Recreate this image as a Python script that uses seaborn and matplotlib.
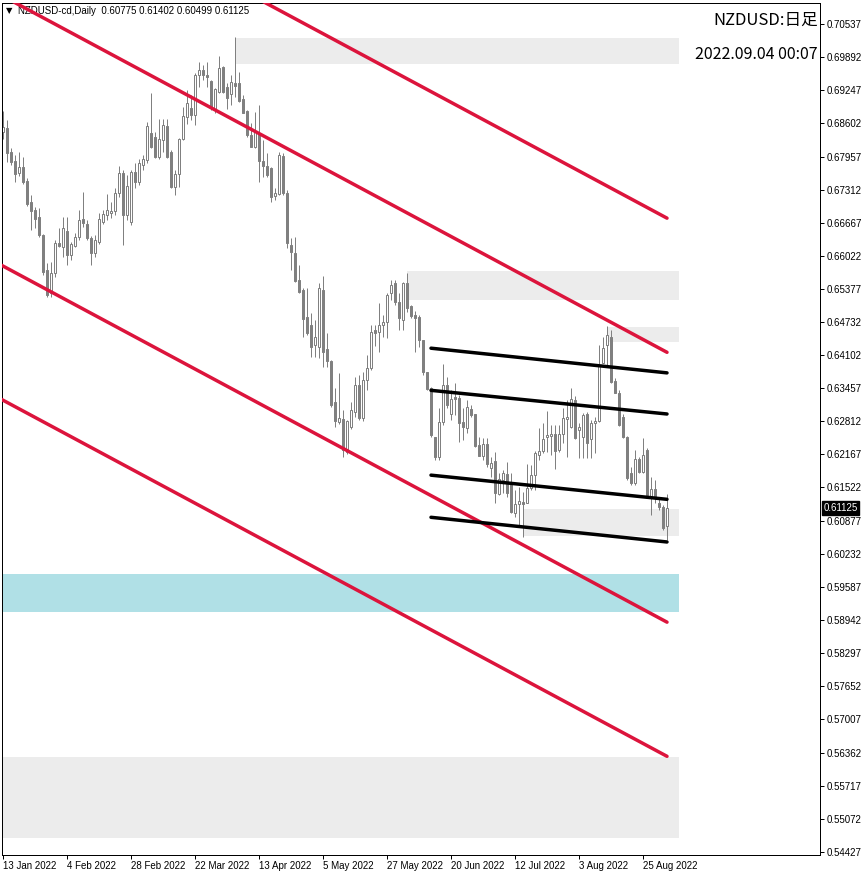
import numpy as np
import pandas as pd
import matplotlib
matplotlib.use("Agg")
import matplotlib.pyplot as plt
import matplotlib.transforms as mtransforms
from matplotlib.patches import Rectangle
import seaborn as sns

# Velas diarias NZDUSD (13 ene 2022 - 2 sep 2022)
opens = [0.6844, 0.6851, 0.6805, 0.6787, 0.6764, 0.6775, 0.6748, 0.6707, 0.6692, 0.6678,
         0.6643, 0.6575, 0.6530, 0.6569, 0.6628, 0.6620, 0.6651, 0.6604, 0.6622, 0.6639,
         0.6674, 0.6665, 0.6637, 0.6608, 0.6630, 0.6668, 0.6682, 0.6686, 0.6690, 0.6725,
         0.6764, 0.6682, 0.6668, 0.6766, 0.6746, 0.6779, 0.6789, 0.6842, 0.6834, 0.6795,
         0.6828, 0.6855, 0.6805, 0.6737, 0.6762, 0.6830, 0.6873, 0.6890, 0.6877, 0.6954,
         0.6964, 0.6954, 0.6943, 0.6886, 0.6921, 0.6970, 0.6931, 0.6918, 0.6939, 0.6939,
         0.6908, 0.6884, 0.6838, 0.6814, 0.6840, 0.6787, 0.6777, 0.6774, 0.6719, 0.6723,
         0.6797, 0.6725, 0.6624, 0.6608, 0.6556, 0.6536, 0.6484, 0.6468, 0.6429, 0.6425,
         0.6536, 0.6421, 0.6398, 0.6318, 0.6279, 0.6285, 0.6221, 0.6269, 0.6299, 0.6351,
         0.6287, 0.6361, 0.6384, 0.6458, 0.6454, 0.6468, 0.6474, 0.6530, 0.6550, 0.6513,
         0.6478, 0.6550, 0.6505, 0.6488, 0.6484, 0.6439, 0.6377, 0.6345, 0.6250, 0.6211,
         0.6279, 0.6351, 0.6295, 0.6328, 0.6326, 0.6279, 0.6268, 0.6305, 0.6295, 0.6234,
         0.6213, 0.6236, 0.6190, 0.6203, 0.6139, 0.6166, 0.6178, 0.6161, 0.6102, 0.6120,
         0.6124, 0.6122, 0.6151, 0.6176, 0.6215, 0.6223, 0.6250, 0.6252, 0.6256, 0.6225,
         0.6256, 0.6285, 0.6269, 0.6322, 0.6264, 0.6250, 0.6295, 0.6246, 0.6277, 0.6281,
         0.6394, 0.6429, 0.6445, 0.6359, 0.6336, 0.6289, 0.6250, 0.6180, 0.6161, 0.6207,
         0.6182, 0.6225, 0.6135, 0.6149, 0.6122, 0.6114, 0.60775]
highs = [0.6884, 0.6867, 0.6812, 0.6799, 0.6805, 0.6795, 0.6754, 0.6721, 0.6698, 0.6696,
         0.6645, 0.6589, 0.6591, 0.6633, 0.6657, 0.6678, 0.6678, 0.6630, 0.6647, 0.6692,
         0.6727, 0.6672, 0.6641, 0.6643, 0.6686, 0.6692, 0.6723, 0.6707, 0.6735, 0.6777,
         0.6770, 0.6760, 0.6770, 0.6783, 0.6791, 0.6799, 0.6863, 0.6919, 0.6844, 0.6869,
         0.6869, 0.6869, 0.6808, 0.6770, 0.6832, 0.6892, 0.6925, 0.6916, 0.6958, 0.6980,
         0.6974, 0.6980, 0.6945, 0.6929, 0.6991, 0.6972, 0.6939, 0.6954, 0.7028, 0.6960,
         0.6916, 0.6886, 0.6861, 0.6882, 0.6896, 0.6828, 0.6803, 0.6775, 0.6735, 0.6805,
         0.6803, 0.6731, 0.6637, 0.6639, 0.6585, 0.6540, 0.6540, 0.6491, 0.6478, 0.6550,
         0.6563, 0.6452, 0.6400, 0.6345, 0.6375, 0.6303, 0.6283, 0.6318, 0.6367, 0.6371,
         0.6377, 0.6410, 0.6468, 0.6468, 0.6511, 0.6488, 0.6530, 0.6556, 0.6556, 0.6530,
         0.6552, 0.6569, 0.6507, 0.6495, 0.6488, 0.6439, 0.6377, 0.6347, 0.6250, 0.6306,
         0.6392, 0.6367, 0.6341, 0.6355, 0.6332, 0.6306, 0.6322, 0.6312, 0.6295, 0.6250,
         0.6248, 0.6248, 0.6211, 0.6221, 0.6180, 0.6186, 0.6201, 0.6180, 0.6147, 0.6153,
         0.6143, 0.6198, 0.6196, 0.6223, 0.6268, 0.6277, 0.6301, 0.6273, 0.6273, 0.6273,
         0.6306, 0.6322, 0.6345, 0.6330, 0.6277, 0.6297, 0.6299, 0.6283, 0.6289, 0.6429,
         0.6445, 0.6466, 0.6458, 0.6365, 0.6341, 0.6295, 0.6252, 0.6192, 0.6225, 0.6211,
         0.6248, 0.6229, 0.6172, 0.6166, 0.6131, 0.6118, 0.61402]
lows = [0.6830, 0.6785, 0.6779, 0.6746, 0.6758, 0.6742, 0.6700, 0.6653, 0.6657, 0.6640,
        0.6565, 0.6522, 0.6522, 0.6561, 0.6620, 0.6600, 0.6585, 0.6594, 0.6620, 0.6633,
        0.6659, 0.6633, 0.6585, 0.6600, 0.6626, 0.6665, 0.6672, 0.6676, 0.6682, 0.6717,
        0.6624, 0.6672, 0.6663, 0.6735, 0.6740, 0.6770, 0.6783, 0.6812, 0.6793, 0.6791,
        0.6805, 0.6793, 0.6735, 0.6721, 0.6737, 0.6828, 0.6859, 0.6867, 0.6857, 0.6931,
        0.6945, 0.6931, 0.6886, 0.6881, 0.6919, 0.6919, 0.6888, 0.6896, 0.6912, 0.6902,
        0.6881, 0.6834, 0.6814, 0.6812, 0.6746, 0.6756, 0.6756, 0.6707, 0.6711, 0.6721,
        0.6721, 0.6618, 0.6575, 0.6552, 0.6530, 0.6445, 0.6449, 0.6406, 0.6406, 0.6404,
        0.6386, 0.6386, 0.6308, 0.6269, 0.6275, 0.6211, 0.6217, 0.6266, 0.6289, 0.6283,
        0.6281, 0.6341, 0.6380, 0.6427, 0.6415, 0.6445, 0.6443, 0.6517, 0.6507, 0.6458,
        0.6458, 0.6493, 0.6482, 0.6415, 0.6425, 0.6371, 0.6341, 0.6250, 0.6205, 0.6205,
        0.6273, 0.6306, 0.6283, 0.6293, 0.6240, 0.6244, 0.6258, 0.6289, 0.6231, 0.6213,
        0.6205, 0.6192, 0.6172, 0.6122, 0.6137, 0.6141, 0.6133, 0.6102, 0.6094, 0.6075,
        0.6055, 0.6122, 0.6147, 0.6147, 0.6205, 0.6219, 0.6221, 0.6215, 0.6188, 0.6221,
        0.6238, 0.6211, 0.6268, 0.6246, 0.6209, 0.6209, 0.6209, 0.6209, 0.6219, 0.6279,
        0.6394, 0.6390, 0.6355, 0.6336, 0.6271, 0.6248, 0.6166, 0.6157, 0.6157, 0.6180,
        0.6180, 0.6135, 0.6098, 0.6122, 0.6108, 0.6069, 0.60499]
closes = [0.6853, 0.6803, 0.6785, 0.6762, 0.6775, 0.6746, 0.6703, 0.6690, 0.6674, 0.6643,
          0.6571, 0.6526, 0.6569, 0.6628, 0.6622, 0.6657, 0.6604, 0.6626, 0.6639, 0.6672,
          0.6666, 0.6637, 0.6608, 0.6633, 0.6674, 0.6684, 0.6692, 0.6690, 0.6725, 0.6764,
          0.6682, 0.6738, 0.6766, 0.6746, 0.6783, 0.6791, 0.6855, 0.6814, 0.6795, 0.6830,
          0.6857, 0.6795, 0.6737, 0.6762, 0.6830, 0.6875, 0.6900, 0.6877, 0.6954, 0.6964,
          0.6954, 0.6951, 0.6892, 0.6927, 0.6968, 0.6921, 0.6910, 0.6941, 0.6933, 0.6904,
          0.6881, 0.6838, 0.6814, 0.6844, 0.6787, 0.6777, 0.6760, 0.6717, 0.6725, 0.6799,
          0.6725, 0.6628, 0.6610, 0.6554, 0.6532, 0.6480, 0.6452, 0.6425, 0.6445, 0.6540,
          0.6415, 0.6398, 0.6312, 0.6281, 0.6287, 0.6225, 0.6281, 0.6303, 0.6351, 0.6287,
          0.6361, 0.6384, 0.6454, 0.6452, 0.6468, 0.6474, 0.6526, 0.6546, 0.6513, 0.6482,
          0.6550, 0.6501, 0.6486, 0.6482, 0.6439, 0.6377, 0.6343, 0.6254, 0.6211, 0.6279,
          0.6351, 0.6312, 0.6324, 0.6324, 0.6277, 0.6269, 0.6308, 0.6293, 0.6233, 0.6213,
          0.6236, 0.6198, 0.6200, 0.6141, 0.6168, 0.6180, 0.6141, 0.6104, 0.6120, 0.6125,
          0.6120, 0.6151, 0.6176, 0.6219, 0.6223, 0.6246, 0.6254, 0.6256, 0.6223, 0.6256,
          0.6287, 0.6289, 0.6324, 0.6248, 0.6269, 0.6293, 0.6238, 0.6277, 0.6281, 0.6390,
          0.6423, 0.6449, 0.6357, 0.6336, 0.6273, 0.6250, 0.6170, 0.6161, 0.6207, 0.6182,
          0.6215, 0.6137, 0.6149, 0.6133, 0.6114, 0.6073, 0.61125]
start_date = "2022-01-13"

# Lineas de tendencia (indice de vela, precio)
line_names = ["r1", "r2", "r3", "r4", "b1", "b2", "b3", "b4"]
line_x0 = [-1, -1, -1, -1, 107, 107, 107, 107]
line_x1 = [166, 166, 166, 166, 166, 166, 166, 166]
line_p0 = [0.7373, 0.7112, 0.6587, 0.6326, 0.6423, 0.6341, 0.6176, 0.6094]
line_p1 = [0.6676, 0.6415, 0.5890, 0.5629, 0.6375, 0.6295, 0.6129, 0.6046]
line_colors = ["#dc143c"] * 4 + ["black"] * 4

# Zonas (rectangulos)
zone_x0 = [58, 101, 151, 130, -1, -1]
zone_x1 = [169, 169, 169, 169, 169, 169]
zone_top = [0.7027, 0.6573, 0.6464, 0.6110, 0.5983, 0.5627]
zone_bottom = [0.6976, 0.6517, 0.6435, 0.6057, 0.5909, 0.5470]
zone_colors = ["#ececec", "#ececec", "#ececec", "#ececec", "#b0e0e6", "#ececec"]

# Eje de precios
ytick_values = [0.70537, 0.69892, 0.69247, 0.68602, 0.67957, 0.67312, 0.66667, 0.66022,
                0.65377, 0.64732, 0.64102, 0.63457, 0.62812, 0.62167, 0.61522, 0.60877,
                0.60232, 0.59587, 0.58942, 0.58297, 0.57652, 0.57007, 0.56362, 0.55717,
                0.55072, 0.54427]
price_min, price_max = 0.54370, 0.70946
xtick_step = 16

df = pd.DataFrame({"open": opens, "high": highs, "low": lows, "close": closes})
df["date"] = pd.bdate_range(start_date, periods=len(df))
df["bar"] = np.arange(len(df))
df["bull"] = df["close"] >= df["open"]

lines = pd.DataFrame({
    "bar": line_x0 + line_x1,
    "price": line_p0 + line_p1,
    "line": line_names + line_names,
})

sns.set_theme(style="white")
plt.rcParams["font.family"] = ["Liberation Sans", "DejaVu Sans"]

W, H = 866, 876
fig = plt.figure(figsize=(W / 100, H / 100), dpi=100)
ax = fig.add_axes([2 / W, 21 / H, 818 / W, 852 / H])
px = 0.72  # 1 pixel in points

# zonas
for x0, x1, t, b, c in zip(zone_x0, zone_x1, zone_top, zone_bottom, zone_colors):
    ax.add_patch(Rectangle((x0, b), x1 - x0, t - b, facecolor=c, edgecolor="none", zorder=0))

# velas
gray = "#808080"
ax.vlines(df["bar"], df["low"], df["high"], color=gray, lw=px, zorder=1)
body_lo = df[["open", "close"]].min(axis=1)
body_h = (df["close"] - df["open"]).abs()
ax.bar(df["bar"], body_h, bottom=body_lo, width=0.6,
       color=np.where(df["bull"], "white", gray), edgecolor=gray, linewidth=px, zorder=2)

# lineas de tendencia
sns.lineplot(data=lines, x="bar", y="price", hue="line", units="line", estimator=None,
             palette=dict(zip(line_names, line_colors)), linewidth=2.5, legend=False,
             sort=False, ax=ax, zorder=3)

ax.set_xlim(-0.25, 204.25)
ax.set_ylim(price_min, price_max)
ax.set_xlabel("")
ax.set_ylabel("")

# eje x
xt = df["bar"].iloc[::xtick_step]
ax.set_xticks(xt)
ax.set_xticklabels([f"{d.day} {d:%b %Y}" for d in df["date"].iloc[::xtick_step]],
                   ha="left")
# eje y a la derecha
ax.yaxis.tick_right()
ax.set_yticks(ytick_values)
ax.set_yticklabels([f"{v:.5f}" for v in ytick_values])
ax.tick_params(axis="both", direction="out", length=3, width=px, color="black",
               labelsize=7, labelcolor="black")
ax.tick_params(axis="x", bottom=True, pad=1)
ax.tick_params(axis="y", right=True, left=False, pad=2)
for s in ax.spines.values():
    s.set_color("black")
    s.set_linewidth(px)

# precio actual
trans = mtransforms.blended_transform_factory(ax.transAxes, ax.transData)
ax.text(1.004, closes[-1], f"{closes[-1]:.5f}", transform=trans, ha="left", va="center",
        fontsize=7, color="white", zorder=5, clip_on=False,
        bbox=dict(boxstyle="square,pad=0.18", fc="black", ec="black"))

# cabecera
ax.text(0.0086, 0.9906, "\u25bc", transform=ax.transAxes, fontsize=6, color="black",
        ha="center", va="center", family=["DejaVu Sans"], zorder=2.5)
ax.text(0.0196, 0.9906,
        f"NZDUSD-cd,Daily  {opens[-1]:.5f} {highs[-1]:.5f} {lows[-1]:.5f} {closes[-1]:.5f}",
        transform=ax.transAxes, fontsize=7, color="black", ha="left", va="center", zorder=2.5)

cjk = ["Noto Sans CJK JP", "DejaVu Sans"]
ax.text(0.9976, 0.980, "NZDUSD:日足", transform=ax.transAxes, fontsize=12,
        ha="right", va="center", family=cjk, color="black", zorder=4)
ax.text(0.9976, 0.939, "2022.09.04 00:07", transform=ax.transAxes, fontsize=11.5,
        ha="right", va="center", family=cjk, color="black", zorder=4)

fig.savefig("out.png", dpi=100)
